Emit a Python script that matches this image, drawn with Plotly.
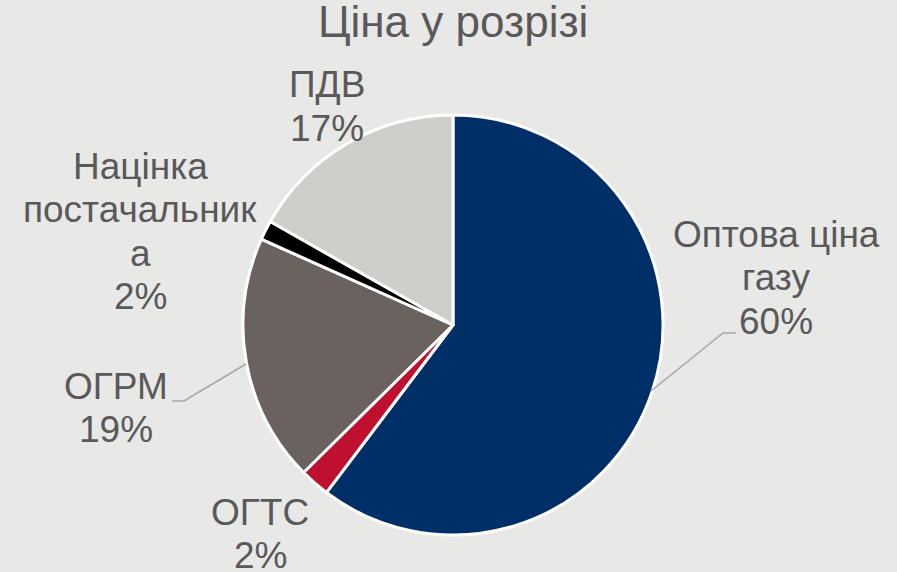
import plotly.graph_objects as go

W, H = 897, 572

labels = ["Оптова ціна газу", "ОГТС", "ОГРМ", "Націнка постачальника", "ПДВ"]
values = [60.3, 2.3, 19.1, 1.5, 16.8]
colors = ["#002E66", "#C0102F", "#6A625F", "#000000", "#D0CECB"]
label_lines = [["Оптова ціна", "газу"], ["ОГТС"], ["ОГРМ"], ["Націнка", "постачальник", "а"], ["ПДВ"]]
# label centre x and first-line y (pixels)
label_pos = [(776, 234), (260, 512), (116, 386), (140, 166), (327, 85)]
LINE_STEP = 43.5
title_text = "Ціна у розрізі"

total = sum(values)
pcts = [f"{round(v / total * 100)}%" for v in values]

def px(x):
    return x / W

def py(y):
    return 1 - y / H

fig = go.Figure(go.Pie(
    labels=labels,
    values=values,
    sort=False,
    direction="clockwise",
    rotation=0,
    marker=dict(colors=colors, line=dict(color="#FFFFFF", width=3)),
    textinfo="none",
    hoverinfo="skip",
    showlegend=False,
    domain=dict(x=[px(243), px(663)], y=[py(535), py(115)]),
))

FONT = "Liberation Sans, Arial"
annotations = []
for lines, p, (x, y) in zip(label_lines, pcts, label_pos):
    for i, t in enumerate(lines + [p]):
        annotations.append(dict(
            x=px(x), y=py(y + i * LINE_STEP), xref="paper", yref="paper",
            text=t, showarrow=False, xanchor="center", yanchor="middle",
            font=dict(family=FONT, size=37, color="#595959"),
        ))
annotations.append(dict(
    x=px(453), y=py(22), xref="paper", yref="paper",
    text=title_text, showarrow=False, xanchor="center", yanchor="middle",
    font=dict(family=FONT, size=44, color="#595959"),
))

def path(pts):
    return "M " + " L ".join(f"{px(x)},{py(y)}" for x, y in pts)

shapes = [
    dict(type="path", xref="paper", yref="paper",
         path=path([(651, 391), (723, 333), (736, 333)]),
         line=dict(color="#A6A6A6", width=1.5)),
    dict(type="path", xref="paper", yref="paper",
         path=path([(246, 364), (184, 401), (172, 401)]),
         line=dict(color="#A6A6A6", width=1.5)),
]

fig.update_layout(
    width=W, height=H,
    margin=dict(l=0, r=0, t=0, b=0),
    paper_bgcolor="#E8E8E7",
    plot_bgcolor="#E8E8E7",
    annotations=annotations,
    shapes=shapes,
)

fig.write_html(
    "out.html",
    config={"displayModeBar": False},
    post_script="document.body.style.margin='0';document.body.style.background='#E8E8E7';",
)
